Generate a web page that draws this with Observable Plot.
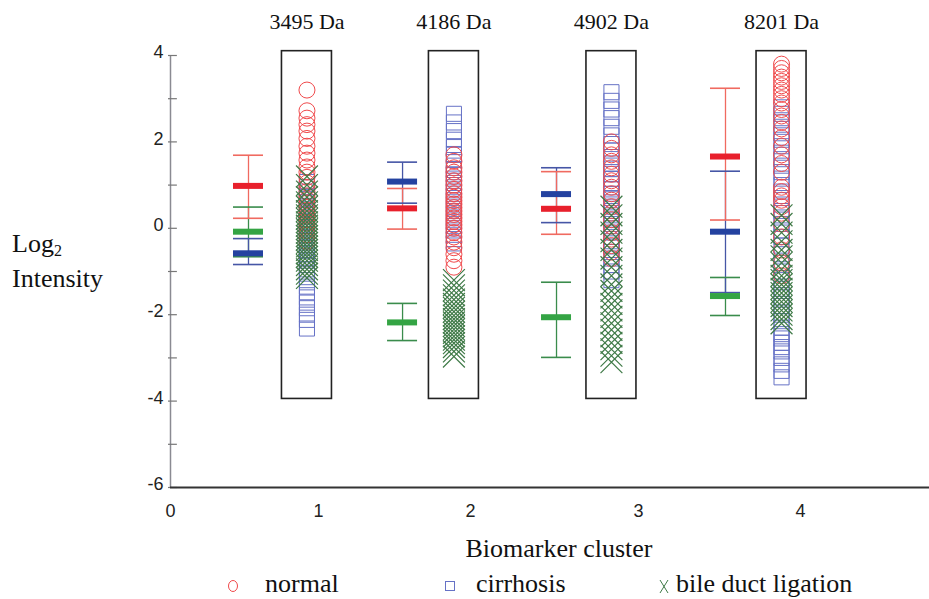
<!DOCTYPE html>
<html>
<head>
<meta charset="utf-8">
<script src="https://cdn.jsdelivr.net/npm/d3@7"></script>
<script src="https://cdn.jsdelivr.net/npm/@observablehq/plot@0.6"></script>
<style>
  body { margin: 0; background: #fff; }
  #wrap { width: 929px; position: relative; }
  #legend { position: relative; width: 929px; height: 39px; font-family: "Liberation Serif", serif; font-size: 26px; color: #111; }
  #legend span.t { position: absolute; top: 9px; line-height: 30px; }
  #legend svg { position: absolute; }
</style>
</head>
<body>
<div id="wrap">
  <div id="chart"></div>
  <div id="legend"></div>
</div>
<script>
// ---- data ----
const clusterTicks = [0, 1, 2, 3, 4];
const yLabelTicks = [-6, -4, -2, 0, 2, 4];
const yMinorTicks = [-6, -5, -4, -3, -2, -1, 0, 1, 2, 3, 4];
const massLabels = ["3495 Da", "4186 Da", "4902 Da", "8201 Da"];
const boxCenterX = [0.922, 1.891, 2.839, 3.883];
const errBarX = [0.527, 1.553, 2.512, 3.537];
const boxBottom = -3.95;
const boxTop = 4.1;
const groups = ["normal", "cirrhosis", "bile duct ligation"];

// error bars per cluster: mean, low, high
const normalMean = [0.97, 0.45, 0.44, 1.65];
const normalLow  = [0.22, -0.03, -0.15, 0.18];
const normalHigh = [1.68, 0.91, 1.30, 3.23];
const cirrMean = [-0.59, 1.07, 0.78, -0.09];
const cirrLow  = [-0.85, 0.57, 0.12, -1.50];
const cirrHigh = [-0.25, 1.52, 1.39, 1.31];
const bdlMean = [-0.09, -2.19, -2.07, -1.58];
const bdlLow  = [-0.67, -2.61, -3.00, -2.03];
const bdlHigh = [0.48, -1.75, -1.26, -1.15];

// individual sample values per cluster
const normalVals = [
  [3.2, 2.72, 2.55, 2.4, 2.25, 2.08, 1.9, 1.74, 1.58, 1.42, 1.3, 1.18, 1.05, 0.95, 0.85, 0.75, 0.66, 0.58, 0.5, 0.42, 0.35, 0.28, 0.2, 0.12, 0.05, -0.05, -0.15, -0.3],
  [1.7, 1.55, 1.4, 1.3, 1.2, 1.1, 1.0, 0.9, 0.8, 0.72, 0.64, 0.56, 0.48, 0.4, 0.32, 0.24, 0.16, 0.08, 0.0, -0.1, -0.2, -0.32, -0.45, -0.6, -0.75, -0.9],
  [2.0, 1.85, 1.7, 1.55, 1.4, 1.25, 1.1, 0.95, 0.8, 0.65, 0.5, 0.35, 0.2, 0.05, -0.1, -0.25, -0.4, -0.55, -0.7],
  [3.8, 3.7, 3.6, 3.5, 3.4, 3.3, 3.2, 3.1, 3.0, 2.9, 2.75, 2.6, 2.45, 2.3, 2.1, 1.9, 1.7, 1.5, 1.3, 0.95, 0.85, 0.75, 0.65, 0.5, 0.35, 0.1, -0.2, -0.5, -0.8, -1.1]
];
const cirrVals = [
  [1.07, 0.95, 0.85, 0.75, 0.68, 0.6, 0.52, 0.45, 0.38, 0.3, 0.22, 0.15, 0.08, 0.0, -0.08, -0.15, -0.22, -0.3, -0.38, -0.45, -0.52, -0.6, -0.68, -0.75, -0.85, -0.95, -1.05, -1.2, -1.35, -1.48, -1.6, -1.72, -1.85, -2.0, -2.12, -2.32],
  [2.65, 2.45, 2.25, 2.05, 1.88, 1.72, 1.58, 1.45, 1.35, 1.25, 1.15, 1.05, 0.95, 0.85, 0.75, 0.65, 0.55, 0.45, 0.35, 0.25, 0.15, 0.05, -0.05, -0.15, -0.25, -0.35],
  [3.15, 2.95, 2.75, 2.55, 2.35, 2.15, 1.95, 1.8, 1.65, 1.5, 1.38, 1.26, 1.14, 1.02, 0.9, 0.8, 0.7, 0.6, 0.5, 0.4, 0.3, 0.2, 0.1, 0.0, -0.1, -0.2, -0.3, -0.42, -0.55, -0.7, -0.85, -1.0, -1.2],
  [2.8, 2.65, 2.5, 2.35, 2.2, 2.05, 1.9, 1.75, 1.6, 1.45, 1.3, 1.15, 1.0, 0.85, 0.7, 0.55, 0.4, 0.25, 0.1, -0.05, -0.2, -0.4, -0.6, -0.8, -1.0, -1.2, -1.4, -1.6, -1.8, -2.0, -2.15, -2.3, -2.45, -2.55, -2.65, -2.75, -2.85, -3.0, -3.15, -3.3, -3.45]
];
const bdlVals = [
  [1.2, 1.0, 0.85, 0.72, 0.6, 0.5, 0.4, 0.3, 0.22, 0.14, 0.06, -0.02, -0.1, -0.18, -0.26, -0.34, -0.42, -0.5, -0.58, -0.66, -0.75, -0.85, -0.95, -1.05, -1.15],
  [-1.2, -1.32, -1.44, -1.55, -1.65, -1.75, -1.84, -1.93, -2.02, -2.1, -2.18, -2.26, -2.34, -2.42, -2.5, -2.58, -2.66, -2.75, -2.85, -2.97],
  [0.5, 0.3, 0.1, -0.1, -0.3, -0.5, -0.7, -0.9, -1.1, -1.3, -1.45, -1.6, -1.75, -1.9, -2.05, -2.2, -2.35, -2.5, -2.65, -2.8, -2.95, -3.1],
  [0.3, 0.1, -0.1, -0.3, -0.5, -0.65, -0.8, -0.95, -1.1, -1.2, -1.3, -1.4, -1.5, -1.6, -1.7, -1.8, -1.9, -2.0, -2.1, -2.2]
];

// ---- styles ----
const markerColor = { "normal": "#f04a4c", "cirrhosis": "#6672c6", "bile duct ligation": "#3f7a47" };
const thinColor = { "normal": "#f06a60", "cirrhosis": "#4656a6", "bile duct ligation": "#3a8c4c" };
const meanColor = { "normal": "#e8202c", "cirrhosis": "#2442a0", "bile duct ligation": "#34a444" };
const capInset = -15;   // half-width of caps in px (negative inset widens)
const boxInset = -25;   // half-width of boxes in px

// ---- build tables ----
function pts(vals, group) {
  const out = [];
  vals.forEach((arr, i) => arr.forEach(v => out.push({ x: boxCenterX[i], y: v, group })));
  return out;
}
const normalPts = pts(normalVals, "normal");
const cirrPts = pts(cirrVals, "cirrhosis");
const bdlPts = pts(bdlVals, "bile duct ligation");

function errs(mean, lo, hi, group) {
  return mean.map((m, i) => ({ x: errBarX[i], mean: m, lo: lo[i], hi: hi[i], group }));
}
const errRows = [
  ...errs(bdlMean, bdlLow, bdlHigh, "bile duct ligation"),
  ...errs(cirrMean, cirrLow, cirrHigh, "cirrhosis"),
  ...errs(normalMean, normalLow, normalHigh, "normal")
];
const boxes = boxCenterX.map((c, i) => ({ c, label: massLabels[i] }));

const serif = "Liberation Serif, Times New Roman, serif";
const sans = "Liberation Sans, Arial, sans-serif";

function bar(yField, halfThick, colorMap) {
  return Plot.rect(errRows, {
    x1: "x", x2: "x", y1: yField, y2: yField,
    insetLeft: capInset, insetRight: capInset, insetTop: -halfThick, insetBottom: -halfThick,
    fill: d => colorMap[d.group]
  });
}

const chart = Plot.plot({
  width: 929,
  height: 560,
  marginLeft: 170,
  marginRight: 0,
  marginTop: 55,
  marginBottom: 73,
  style: { fontFamily: sans, background: "transparent", overflow: "visible" },
  x: { type: "linear", domain: [0, 1, 2, 3, 4, 4.82], range: [170, 318, 470, 638, 800, 929], axis: null },
  y: { domain: [-6, 4], axis: null },
  marks: [
    // axes
    Plot.ruleX([0], { y1: -6, y2: 4, stroke: "#8a8a92", strokeWidth: 1.5 }),
    Plot.ruleY(yMinorTicks, { y: d => d, x1: 0, x2: 0.06, dx: -2, stroke: "#777", strokeWidth: 1.2 }),
    Plot.axisY({ ticks: yLabelTicks, tickSize: 0, tickPadding: 7, dy: -3, fontSize: 18, fill: "#222", tickFormat: d => String(d) }),
    Plot.ruleY([-6], { stroke: "#333", strokeWidth: 2 }),
    Plot.axisX({ ticks: clusterTicks, tickSize: 0, tickPadding: 17, fontSize: 18, fill: "#222", tickFormat: d => String(d) }),
    // boxes & labels
    Plot.rect(boxes, { x1: "c", x2: "c", insetLeft: boxInset, insetRight: boxInset, y1: boxBottom, y2: boxTop, fill: "none", stroke: "#222", strokeWidth: 1.6 }),
    Plot.text(boxes, { x: "c", y: 4.78, text: "label", fontFamily: serif, fontSize: 22, fill: "#111" }),
    // samples
    Plot.dot(cirrPts, { x: "x", y: "y", symbol: "square", r: 8.5, fill: "none", stroke: markerColor["cirrhosis"], strokeWidth: 1 }),
    Plot.dot(normalPts, { x: "x", y: "y", symbol: "circle", r: 8, fill: "none", stroke: markerColor["normal"], strokeWidth: 1 }),
    Plot.dot(bdlPts, { x: "x", y: "y", symbol: "times", r: 10, fill: "none", stroke: markerColor["bile duct ligation"], strokeWidth: 1.2 }),
    // error bars
    Plot.ruleX(errRows, { x: "x", y1: "lo", y2: "hi", stroke: d => thinColor[d.group], strokeWidth: 1.3 }),
    bar("lo", 0.8, thinColor),
    bar("hi", 0.8, thinColor),
    bar("mean", 3, meanColor)
  ]
});
document.getElementById("chart").appendChild(chart);

// y-axis title and x-axis title
const svg = d3.select(chart);
const yt = svg.append("text").attr("font-family", serif).attr("font-size", 26).attr("fill", "#111").attr("text-anchor", "start");
yt.append("tspan").attr("x", 12).attr("y", 252).text("Log");
yt.append("tspan").attr("font-size", 16).attr("dy", 4).text("2");
svg.append("text").attr("font-family", serif).attr("font-size", 26).attr("fill", "#111").attr("text-anchor", "start")
  .attr("x", 12).attr("y", 287).text("Intensity");
svg.append("text").attr("font-family", serif).attr("font-size", 26).attr("fill", "#111")
  .attr("x", 559).attr("y", 557).attr("text-anchor", "middle").text("Biomarker cluster");

// legend
const legend = d3.select("#legend");
const legendItems = [
  { group: "normal", sx: 233, tx: 265 },
  { group: "cirrhosis", sx: 450, tx: 476 },
  { group: "bile duct ligation", sx: 664, tx: 676 }
];
legendItems.forEach(it => {
  const s = legend.append("svg").attr("width", 14).attr("height", 16)
    .style("left", (it.sx - 7) + "px").style("top", "18px");
  const col = markerColor[it.group];
  if (it.group === "normal") s.append("ellipse").attr("cx", 7).attr("cy", 8).attr("rx", 4.5).attr("ry", 5.5).attr("fill", "none").attr("stroke", col);
  else if (it.group === "cirrhosis") s.append("rect").attr("x", 2.5).attr("y", 3.5).attr("width", 9).attr("height", 9).attr("fill", "none").attr("stroke", col);
  else s.append("path").attr("d", "M3,2L11,15M11,2L3,15").attr("fill", "none").attr("stroke", col);
  legend.append("span").attr("class", "t").style("left", it.tx + "px").text(it.group);
});
</script>
</body>
</html>
